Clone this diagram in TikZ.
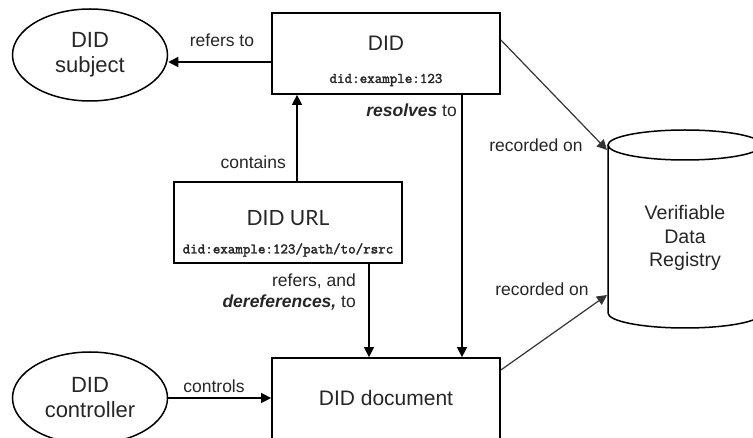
\documentclass[tikz,border=0pt]{standalone}
\usepackage{fontspec}
\setmainfont{Liberation Sans}
\newfontfamily\didlato{Lato}
\newfontfamily\didmono[FakeBold=2.2]{Latin Modern Mono}
\usetikzlibrary{arrows.meta,shapes.geometric}

\tikzset{
	box/.style={draw, line width=1.8pt, minimum width=228pt, minimum height=81pt, inner sep=0pt},
	blob/.style={draw, ellipse, line width=1.5pt, minimum width=155pt, minimum height=92pt, inner sep=0pt, align=center, text=black!85, font=\fontsize{22}{25}\selectfont},
	big/.style={text=black!85, font=\fontsize{21}{25}\selectfont},
	code/.style={text=black!85, font=\didmono\fontsize{14.6}{16}\selectfont},
	lbl/.style={text=black!85, inner sep=1pt, font=\fontsize{17.5}{21}\selectfont},
	arr/.style={-{Triangle[length=10pt,width=10pt]}, line width=1.5pt},
	rec/.style={-{Triangle[length=10pt,width=10pt]}, line width=1.2pt, draw=black!80},
}

\begin{document}
\begin{tikzpicture}[x=1pt, y=-1pt]
		%%%%% START %%%%%
		\useasboundingbox (0,0) rectangle (753,438);
		
		\node[blob] (subj) at (90,55) {DID\\subject};
		\node[blob] (ctrl) at (90,398) {DID\\controller};
		
		\node[box] (did) at (386,53.5) {};
		\node[big] (didtxt) at (386,43) {DID};
		\node[code] (didcode) at (386,80) {did:example:123};
		
		\node[box] (url) at (288,222.5) {};
		\node[big, font=\didlato\fontsize{21}{25}\selectfont] (urltxt) at (288,218) {DID URL};
		\node[code] (urlcode) at (288,250) {did:example:123/path/to/rsrc};
		
		\node[box, minimum height=86pt] (doc) at (386,401) {};
		\node[big] (doctxt) at (386,398) {DID document};
		
		% registry
		\draw[line width=1.5pt] (608,145) -- (608,313) arc (180:0:77 and 15) -- (762,145);
		\draw[line width=1.5pt] (685,145) ellipse (77 and 15);
		\node[align=center, text=black!85, font=\fontsize{19.6}{23.5}\selectfont] (vdr) at (685,238) {Verifiable\\Data\\Registry};
		\coordinate (vdrtop) at (607,150);
		\coordinate (vdrlow) at (607,295);
		
		\draw[arr] (did.west |- 0,62) -- (subj.east |- 0,62);
		\node[lbl] (refl) at (222,40) {refers to};
		
		\draw[arr] (url.north -| 297,0) -- (did.south -| 297,0);
		\node[lbl, anchor=east] (contl) at (287,162) {contains};
		
		\draw[arr] (did.south -| 462,0) -- (doc.north -| 462,0);
		\node[lbl, anchor=east] (resl) at (458,110) {\textbf{\textit{resolves}} to};
		
		\draw[arr] (url.south -| 369,0) -- (doc.north -| 369,0);
		\node[lbl, anchor=east, align=right] (derl) at (357,292.5) {refers, and\\\textbf{\textit{dereferences,}} to};
		
		\draw[arr] (ctrl.east) -- (ctrl.east -| doc.west);
		\node[lbl] (ctll) at (214,386) {controls};
		
		\draw[rec] (did.east |- 0,40) -- (vdrtop);
		\node[lbl] (rec1) at (536,145) {recorded on};
		\draw[rec] (doc.east |- 0,370) -- (vdrlow);
		\node[lbl] (rec2) at (542,289) {recorded on};
		
		%%%%% END %%%%%
	\end{tikzpicture}
\end{document}
